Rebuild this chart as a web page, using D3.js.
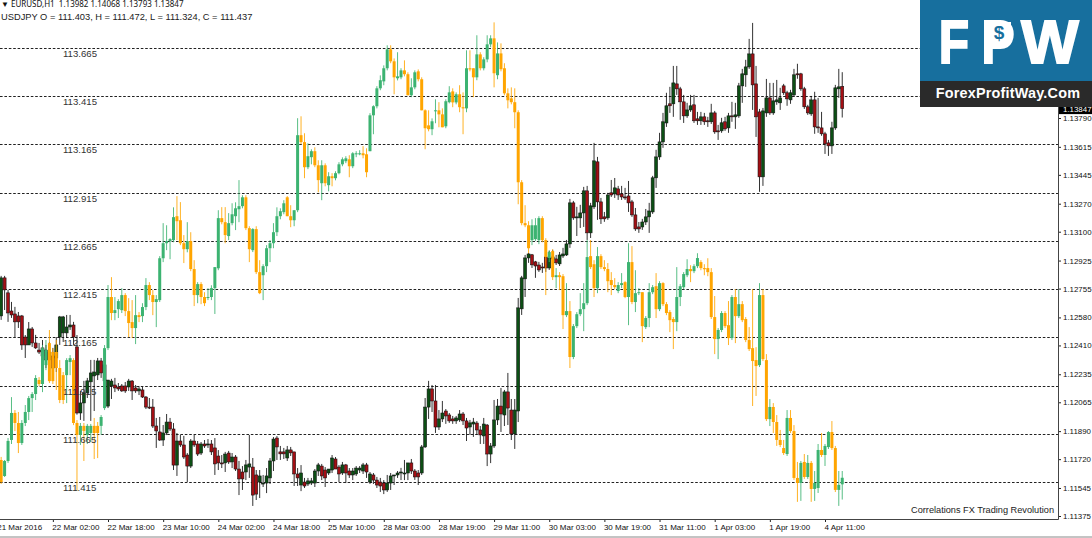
<!DOCTYPE html>
<html><head><meta charset="utf-8">
<script src="https://cdn.jsdelivr.net/npm/d3@7"></script>
<style>html,body{margin:0;background:#fff;overflow:hidden}svg{display:block}</style>
</head><body><svg id="c" width="1092" height="538"></svg>
<script>
const timeLabels=["21 Mar 2016","22 Mar 02:00","22 Mar 18:00","23 Mar 10:00","24 Mar 02:00","24 Mar 18:00","25 Mar 10:00","28 Mar 03:00","28 Mar 19:00","29 Mar 11:00","30 Mar 03:00","30 Mar 19:00","31 Mar 11:00","1 Apr 03:00","1 Apr 19:00","4 Apr 11:00"];
const eurTicks=[1.13790,1.13615,1.13445,1.13270,1.13100,1.12925,1.12755,1.12580,1.12410,1.12235,1.12065,1.11890,1.11720,1.11545,1.11375];
const usdLevels=[113.665,113.415,113.165,112.915,112.665,112.415,112.165,111.915,111.665,111.415];
// open, high, low, close
const usdjpyBars=[
[111.529,111.545,111.405,111.415],[111.446,111.529,111.441,111.524],[111.524,111.643,111.514,111.628],[111.633,111.855,111.612,111.773],[111.773,111.788,111.679,111.721],
[111.721,111.778,111.565,111.617],[111.617,111.736,111.607,111.721],[111.721,111.814,111.705,111.778],[111.778,111.861,111.736,111.850],[111.850,111.881,111.778,111.871],
[111.871,111.969,111.840,111.954],[111.944,111.959,111.912,111.923],[111.923,112.125,111.881,112.109],[112.021,112.151,111.995,112.099],[112.135,112.203,111.928,111.938],
[112.089,112.109,111.923,111.938],[112.089,112.151,111.892,112.006],[112.006,112.047,111.824,111.840],[111.969,111.985,111.819,111.840],[111.969,112.057,111.824,112.047],
[112.037,112.073,111.969,112.057],[112.047,112.057,111.710,111.721],[111.721,111.736,111.369,111.659],[111.659,111.721,111.607,111.706],[111.706,111.721,111.524,111.680],
[111.659,111.716,111.612,111.706],[111.669,111.716,111.622,111.706],[111.706,111.747,111.534,111.669],[111.706,111.726,111.539,111.669],[111.706,111.762,111.659,111.752],
[111.798,112.125,111.788,112.109],[112.109,112.436,112.099,112.374],[112.374,112.477,112.254,112.291],[112.291,112.374,112.254,112.306],[112.311,112.363,112.265,112.353],
[112.306,112.420,112.291,112.384],[112.384,112.394,112.275,112.301],[112.301,112.368,112.166,112.239],[112.244,112.358,112.161,112.213],[112.213,112.384,112.130,112.280],
[112.280,112.296,112.244,112.270],[112.275,112.342,112.244,112.322],[112.322,112.472,112.306,112.436],[112.436,112.451,112.358,112.384],[112.384,112.410,112.280,112.348],
[112.348,112.384,112.218,112.363],[112.358,112.586,112.348,112.575],[112.575,112.757,112.555,112.653],[112.653,112.746,112.617,112.664],[112.664,112.679,112.570,112.674],
[112.669,112.839,112.658,112.788],[112.793,112.897,112.669,112.767],[112.772,112.866,112.643,112.653],[112.653,112.695,112.550,112.622],[112.622,112.762,112.606,112.664],
[112.664,112.710,112.508,112.519],[112.519,112.565,112.327,112.384],[112.384,112.451,112.342,112.441],[112.441,112.451,112.337,112.374],[112.374,112.399,112.327,112.342],
[112.374,112.420,112.358,112.374],[112.374,112.435,112.358,112.420],[112.420,112.529,112.286,112.529],[112.523,112.824,112.513,112.783],[112.783,112.840,112.751,112.762],
[112.762,112.840,112.653,112.695],[112.690,112.809,112.669,112.757],[112.757,112.860,112.746,112.803],[112.793,112.865,112.721,112.834],[112.829,112.980,112.762,112.845],
[112.845,112.902,112.834,112.891],[112.891,112.902,112.721,112.731],[112.731,112.741,112.555,112.622],[112.617,112.731,112.607,112.726],[112.726,112.741,112.493,112.503],
[112.503,112.565,112.389,112.394],[112.487,112.544,112.358,112.534],[112.534,112.643,112.503,112.627],[112.627,112.669,112.555,112.653],[112.653,112.757,112.627,112.710],
[112.710,112.839,112.690,112.793],[112.793,112.834,112.777,112.819],[112.814,112.876,112.803,112.860],[112.891,112.897,112.803,112.793],[112.793,112.850,112.736,112.772],
[112.772,112.824,112.741,112.824],[112.824,113.301,112.814,113.213],[113.213,113.311,113.166,113.177],[113.177,113.223,112.990,113.047],[113.047,113.171,113.037,113.104],
[113.099,113.140,113.062,113.130],[113.130,113.150,113.047,113.057],[113.057,113.083,112.917,112.980],[112.964,113.083,112.876,113.057],[113.057,113.067,112.948,112.964],
[112.954,113.021,112.922,113.000],[113.000,113.016,112.948,112.990],[112.990,113.026,112.979,113.016],[113.016,113.073,113.010,113.062],[113.062,113.098,113.052,113.088],
[113.078,113.104,113.068,113.093],[113.088,113.109,112.995,113.052],[113.052,113.125,113.042,113.119],[113.114,113.130,113.099,113.119],[113.114,113.135,113.109,113.119],
[113.119,113.156,113.093,113.109],[113.114,113.145,112.995,113.021],[113.130,113.327,113.130,113.316],[113.316,113.368,113.218,113.363],[113.363,113.467,113.352,113.456],
[113.456,113.523,113.446,113.498],[113.492,113.575,113.472,113.560],[113.560,113.679,113.549,113.658],[113.658,113.679,113.586,113.596],[113.596,113.611,113.425,113.513],
[113.508,113.643,113.497,113.518],[113.513,113.560,113.503,113.549],[113.549,113.601,113.518,113.529],[113.529,113.539,113.420,113.420],[113.420,113.508,113.410,113.461],
[113.461,113.549,113.451,113.539],[113.544,113.554,113.492,113.503],[113.503,113.513,113.342,113.342],[113.342,113.347,113.140,113.249],[113.264,113.342,113.233,113.244],
[113.244,113.300,113.213,113.285],[113.342,113.399,113.275,113.342],[113.342,113.384,113.254,113.321],[113.321,113.352,113.254,113.254],[113.259,113.399,113.249,113.389],
[113.384,113.467,113.378,113.435],[113.440,113.456,113.358,113.383],[113.383,113.435,113.373,113.425],[113.425,113.472,113.332,113.358],[113.358,113.435,113.218,113.352],
[113.352,113.653,113.332,113.560],[113.560,113.653,113.544,113.554],[113.560,113.560,113.410,113.513],[113.513,113.731,113.498,113.632],[113.632,113.643,113.549,113.560],
[113.560,113.617,113.549,113.606],[113.606,113.731,113.591,113.684],[113.684,113.731,113.669,113.715],[113.715,113.798,113.461,113.534],[113.524,113.694,113.503,113.637],
[113.637,113.689,113.544,113.555],[113.560,113.586,113.420,113.430],[113.430,113.456,113.352,113.394],[113.404,113.461,113.373,113.384],[113.384,113.456,113.249,113.332],
[113.332,113.342,112.855,112.969],[112.969,112.980,112.746,112.757],[112.757,112.850,112.736,112.746],[112.746,112.767,112.601,112.627],[112.669,112.777,112.643,112.746],
[112.674,112.783,112.664,112.746],[112.669,112.793,112.648,112.783],[112.783,112.793,112.658,112.669],[112.669,112.679,112.384,112.581],[112.576,112.617,112.555,112.607],
[112.612,112.622,112.462,112.477],[112.477,112.524,112.420,112.487],[112.487,112.503,112.410,112.477],[112.482,112.493,112.208,112.280],[112.280,112.446,112.270,112.301],
[112.301,112.353,112.006,112.063],[112.063,112.234,112.052,112.223],[112.223,112.296,112.213,112.285],[112.285,112.394,112.275,112.311],[112.311,112.446,112.197,112.342],
[112.342,112.669,112.332,112.581],[112.586,112.669,112.519,112.529],[112.544,112.565,112.374,112.420],[112.420,112.633,112.394,112.586],[112.586,112.596,112.519,112.529],
[112.529,112.565,112.508,112.519],[112.519,112.550,112.399,112.456],[112.462,112.503,112.384,112.436],[112.436,112.472,112.415,112.425],[112.405,112.451,112.394,112.436],
[112.436,112.498,112.420,112.446],[112.451,112.456,112.368,112.374],[112.374,112.653,112.228,112.555],[112.555,112.638,112.337,112.348],[112.348,112.513,112.296,112.394],
[112.394,112.420,112.384,112.399],[112.399,112.399,112.140,112.223],[112.218,112.275,112.208,112.265],[112.265,112.446,112.218,112.399],[112.399,112.436,112.389,112.425],
[112.430,112.498,112.265,112.311],[112.311,112.456,112.301,112.446],[112.446,112.451,112.327,112.337],[112.337,112.348,112.280,112.291],[112.296,112.306,112.192,112.254],
[112.260,112.270,112.104,112.244],[112.244,112.529,112.197,112.374],[112.374,112.441,112.327,112.430],[112.425,112.503,112.415,112.493],[112.487,112.570,112.477,112.519],
[112.519,112.539,112.451,112.508],[112.508,112.544,112.498,112.534],[112.534,112.601,112.524,112.576],[112.555,112.565,112.513,112.524],[112.524,112.544,112.487,112.518],
[112.524,112.575,112.482,112.503],[112.503,112.524,112.260,112.270],[112.270,112.379,112.078,112.156],[112.156,112.213,112.052,112.203],[112.203,112.301,112.192,112.291],
[112.291,112.301,112.213,112.223],[112.228,112.353,112.125,112.161],[112.161,112.384,112.151,112.374],[112.374,112.415,112.135,112.275],[112.275,112.415,112.265,112.337],
[112.337,112.353,112.244,112.254],[112.260,112.270,112.140,112.151],[112.151,112.218,112.094,112.104],[112.109,112.415,111.809,112.042],[112.047,112.114,111.861,112.016],
[112.021,112.446,112.011,112.384],[112.384,112.415,112.042,112.052],[112.047,112.078,111.731,111.741],[111.741,111.845,111.705,111.804],[111.804,111.824,111.669,111.726],
[111.726,111.762,111.602,111.633],[111.633,111.685,111.596,111.607],[111.591,111.633,111.555,111.565],[111.560,111.788,111.550,111.747],[111.747,111.788,111.669,111.679],
[111.679,111.710,111.426,111.436],[111.436,111.519,111.312,111.410],[111.410,111.524,111.317,111.514],[111.519,111.560,111.431,111.441],[111.441,111.555,111.431,111.514],
[111.514,111.524,111.312,111.379],[111.379,111.472,111.317,111.410],[111.384,111.612,111.358,111.581],[111.581,111.669,111.545,111.555],[111.555,111.612,111.498,111.602],
[111.596,111.679,111.586,111.674],[111.674,111.731,111.581,111.591],[111.591,111.602,111.363,111.374],[111.374,111.472,111.291,111.400],[111.403,111.472,111.324,111.437]];
const eurusdBars=[
[1.12589,1.12832,1.12565,1.12820],[1.12820,1.12832,1.12625,1.12747],[1.12729,1.12747,1.12553,1.12607],[1.12619,1.12674,1.12577,1.12595],[1.12601,1.12644,1.12461,1.12553],
[1.12589,1.12613,1.12516,1.12553],[1.12589,1.12595,1.12383,1.12413],[1.12461,1.12473,1.12334,1.12413],[1.12413,1.12552,1.12413,1.12510],[1.12510,1.12522,1.12401,1.12425],
[1.12425,1.12474,1.12389,1.12395],[1.12382,1.12425,1.12358,1.12370],[1.12395,1.12443,1.12292,1.12346],[1.12382,1.12413,1.12273,1.12322],[1.12322,1.12431,1.12249,1.12370],
[1.12346,1.12395,1.12225,1.12273],[1.12334,1.12461,1.12249,1.12413],[1.12461,1.12589,1.12413,1.12583],[1.12486,1.12589,1.12431,1.12583],[1.12486,1.12595,1.12456,1.12522],
[1.12522,1.12595,1.12504,1.12534],[1.12534,1.12553,1.12413,1.12461],[1.12401,1.12473,1.11990,1.12000],[1.12000,1.12134,1.11958,1.12061],[1.12061,1.12195,1.11952,1.12122],
[1.12122,1.12213,1.12091,1.12195],[1.12189,1.12322,1.11952,1.12243],[1.12225,1.12322,1.12012,1.12249],[1.12231,1.12334,1.12200,1.12316],[1.12316,1.12334,1.12213,1.12243],
[1.12195,1.12322,1.12170,1.12292],[1.12042,1.12200,1.12030,1.12200],[1.12164,1.12207,1.12085,1.12194],[1.12170,1.12213,1.12127,1.12152],[1.12158,1.12182,1.12134,1.12146],
[1.12164,1.12176,1.12128,1.12134],[1.12164,1.12188,1.12122,1.12134],[1.12158,1.12207,1.12134,1.12194],[1.12194,1.12200,1.12079,1.12134],[1.12152,1.12170,1.12122,1.12134],
[1.12134,1.12164,1.12109,1.12146],[1.12140,1.12158,1.12091,1.12097],[1.12097,1.12103,1.12024,1.12036],[1.12036,1.12091,1.12024,1.12030],[1.12036,1.12085,1.11909,1.11921],
[1.11921,1.11970,1.11788,1.11891],[1.11885,1.11976,1.11830,1.11836],[1.11836,1.11927,1.11800,1.11879],[1.11879,1.11994,1.11866,1.11945],[1.11945,1.11970,1.11891,1.11903],
[1.11903,1.11939,1.11654,1.11684],[1.11684,1.11879,1.11618,1.11830],[1.11830,1.11867,1.11794,1.11806],[1.11806,1.11861,1.11721,1.11733],[1.11745,1.11757,1.11581,1.11678],
[1.11678,1.11842,1.11666,1.11830],[1.11830,1.11867,1.11794,1.11806],[1.11812,1.11830,1.11739,1.11751],[1.11757,1.11824,1.11745,1.11812],[1.11812,1.11836,1.11788,1.11800],
[1.11806,1.11842,1.11788,1.11812],[1.11812,1.11836,1.11745,1.11764],[1.11788,1.11848,1.11624,1.11691],[1.11739,1.11775,1.11654,1.11697],[1.11697,1.11745,1.11666,1.11691],
[1.11697,1.11764,1.11642,1.11751],[1.11757,1.11770,1.11691,1.11703],[1.11703,1.11757,1.11666,1.11733],[1.11733,1.11745,1.11648,1.11660],[1.11660,1.11709,1.11502,1.11600],
[1.11642,1.11678,1.11533,1.11600],[1.11642,1.11715,1.11593,1.11685],[1.11672,1.11867,1.11606,1.11691],[1.11672,1.11727,1.11436,1.11502],[1.11624,1.11654,1.11472,1.11508],
[1.11581,1.11654,1.11484,1.11618],[1.11575,1.11624,1.11551,1.11575],[1.11575,1.11666,1.11514,1.11618],[1.11606,1.11727,1.11569,1.11709],[1.11709,1.11854,1.11648,1.11842],
[1.11848,1.11860,1.11715,1.11794],[1.11764,1.11800,1.11715,1.11752],[1.11764,1.11788,1.11721,1.11752],[1.11727,1.11800,1.11709,1.11776],[1.11776,1.11794,1.11739,1.11758],
[1.11764,1.11764,1.11557,1.11630],[1.11630,1.11666,1.11557,1.11606],[1.11563,1.11684,1.11526,1.11636],[1.11581,1.11606,1.11545,1.11557],[1.11569,1.11606,1.11557,1.11588],
[1.11575,1.11606,1.11563,1.11588],[1.11575,1.11660,1.11551,1.11648],[1.11648,1.11697,1.11618,1.11685],[1.11678,1.11691,1.11593,1.11618],[1.11654,1.11672,1.11551,1.11606],
[1.11636,1.11660,1.11624,1.11660],[1.11654,1.11745,1.11636,1.11727],[1.11721,1.11733,1.11660,1.11660],[1.11672,1.11684,1.11581,1.11630],[1.11636,1.11703,1.11624,1.11685],
[1.11685,1.11691,1.11575,1.11636],[1.11648,1.11666,1.11606,1.11624],[1.11624,1.11666,1.11593,1.11648],[1.11630,1.11678,1.11618,1.11666],[1.11654,1.11678,1.11636,1.11666],
[1.11648,1.11697,1.11630,1.11685],[1.11685,1.11697,1.11606,1.11642],[1.11581,1.11642,1.11569,1.11630],[1.11624,1.11636,1.11569,1.11593],[1.11593,1.11612,1.11545,1.11563],
[1.11581,1.11606,1.11521,1.11557],[1.11575,1.11593,1.11508,1.11533],[1.11533,1.11624,1.11521,1.11575],[1.11575,1.11636,1.11533,1.11618],[1.11618,1.11624,1.11563,1.11624],
[1.11624,1.11648,1.11606,1.11636],[1.11636,1.11667,1.11593,1.11642],[1.11630,1.11715,1.11593,1.11636],[1.11636,1.11697,1.11593,1.11697],[1.11697,1.11721,1.11630,1.11648],
[1.11648,1.11660,1.11594,1.11612],[1.11636,1.11654,1.11563,1.11612],[1.11636,1.11806,1.11624,1.11794],[1.11794,1.12091,1.11788,1.12036],[1.12036,1.12195,1.11964,1.12146],
[1.12146,1.12170,1.12006,1.12073],[1.12073,1.12170,1.11879,1.11915],[1.11915,1.12018,1.11897,1.11964],[1.11964,1.12073,1.11945,1.12000],[1.12012,1.12024,1.11934,1.11982],
[1.11988,1.12000,1.11940,1.11952],[1.11964,1.11982,1.11934,1.11952],[1.11952,1.11982,1.11934,1.11970],[1.11958,1.12018,1.11946,1.11994],[1.11994,1.12006,1.11927,1.11952],
[1.11952,1.11970,1.11830,1.11909],[1.11915,1.11958,1.11867,1.11940],[1.11933,1.11970,1.11855,1.11945],[1.11939,1.11951,1.11867,1.11897],[1.11897,1.11921,1.11812,1.11867],
[1.11861,1.11970,1.11812,1.11933],[1.11927,1.11933,1.11678,1.11751],[1.11751,1.11818,1.11696,1.11800],[1.11800,1.12079,1.11788,1.11958],[1.11958,1.12085,1.11927,1.12042],
[1.12042,1.12152,1.11885,1.11994],[1.11988,1.12140,1.11921,1.12128],[1.12128,1.12243,1.11927,1.12030],[1.12018,1.12085,1.11836,1.11873],[1.11873,1.12085,1.11782,1.12018],
[1.12012,1.12698,1.11945,1.12638],[1.12632,1.12832,1.12595,1.12820],[1.12814,1.12959,1.12704,1.12941],[1.12941,1.12971,1.12911,1.12965],[1.12960,1.12965,1.12880,1.12899],
[1.12917,1.12923,1.12820,1.12892],[1.12898,1.12917,1.12856,1.12868],[1.12886,1.12911,1.12850,1.12880],[1.12947,1.12959,1.12856,1.12880],[1.12880,1.12983,1.12868,1.12941],
[1.12935,1.12990,1.12868,1.12947],[1.12935,1.12959,1.12898,1.12911],[1.12905,1.12977,1.12892,1.12959],[1.12953,1.13002,1.12941,1.12965],[1.12959,1.13050,1.12953,1.13026],
[1.13026,1.13299,1.13002,1.13275],[1.13275,1.13287,1.13172,1.13184],[1.13184,1.13251,1.13074,1.13190],[1.13184,1.13263,1.13123,1.13214],[1.13214,1.13372,1.13129,1.13348],
[1.13348,1.13378,1.13050,1.13093],[1.13093,1.13275,1.13062,1.13257],[1.13251,1.13639,1.13238,1.13530],[1.13524,1.13554,1.13172,1.13281],[1.13281,1.13305,1.13147,1.13178],
[1.13190,1.13220,1.13160,1.13178],[1.13184,1.13336,1.13172,1.13323],[1.13336,1.13414,1.13311,1.13323],[1.13329,1.13426,1.13305,1.13366],[1.13360,1.13378,1.13293,1.13323],
[1.13329,1.13378,1.13293,1.13311],[1.13311,1.13366,1.13293,1.13305],[1.13317,1.13408,1.13220,1.13275],[1.13281,1.13293,1.13190,1.13202],[1.13202,1.13244,1.13105,1.13117],
[1.13129,1.13159,1.13093,1.13117],[1.13129,1.13178,1.13111,1.13159],[1.13159,1.13238,1.13141,1.13190],[1.13190,1.13275,1.13093,1.13226],[1.13220,1.13439,1.13208,1.13427],
[1.13427,1.13597,1.13366,1.13554],[1.13554,1.13700,1.13536,1.13645],[1.13645,1.13821,1.13609,1.13767],[1.13760,1.13943,1.13736,1.13864],[1.13876,1.13979,1.13821,1.13864],
[1.13876,1.14106,1.13797,1.14003],[1.13997,1.14106,1.13930,1.13967],[1.13967,1.13979,1.13779,1.13888],[1.13888,1.13930,1.13760,1.13803],[1.13803,1.13882,1.13791,1.13839],
[1.13839,1.13930,1.13827,1.13864],[1.13870,1.13930,1.13760,1.13773],[1.13785,1.13827,1.13748,1.13773],[1.13773,1.13827,1.13748,1.13797],[1.13797,1.13821,1.13748,1.13767],
[1.13773,1.13797,1.13736,1.13767],[1.13767,1.13876,1.13754,1.13821],[1.13821,1.13833,1.13694,1.13706],[1.13712,1.13748,1.13657,1.13706],[1.13712,1.13791,1.13700,1.13761],
[1.13767,1.13797,1.13712,1.13724],[1.13730,1.13821,1.13700,1.13803],[1.13803,1.13888,1.13767,1.13797],[1.13797,1.13882,1.13724,1.13809],[1.13803,1.14003,1.13791,1.13985],
[1.13985,1.14088,1.13882,1.14058],[1.14052,1.14143,1.13979,1.14100],[1.14100,1.14270,1.14088,1.14179],[1.14179,1.14367,1.13839,1.13991],[1.13997,1.14106,1.13675,1.13797],
[1.13827,1.13845,1.13342,1.13433],[1.13433,1.13851,1.13378,1.13833],[1.13821,1.14027,1.13797,1.13912],[1.13912,1.14003,1.13809,1.13821],[1.13821,1.14003,1.13809,1.13894],
[1.13888,1.14021,1.13870,1.13900],[1.13882,1.13973,1.13839,1.13912],[1.13985,1.13997,1.13930,1.13943],[1.13943,1.13955,1.13864,1.13906],[1.13900,1.13961,1.13876,1.13943],
[1.13930,1.14088,1.13918,1.14052],[1.14058,1.14119,1.14028,1.14052],[1.14058,1.14064,1.13955,1.13967],[1.13967,1.13979,1.13845,1.13858],[1.13858,1.13870,1.13809,1.13821],
[1.13815,1.13924,1.13803,1.13900],[1.13900,1.13949,1.13694,1.13736],[1.13736,1.13912,1.13700,1.13730],[1.13730,1.13827,1.13682,1.13694],[1.13694,1.13706,1.13572,1.13633],
[1.13639,1.13657,1.13560,1.13621],[1.13621,1.13767,1.13572,1.13730],[1.13730,1.13991,1.13718,1.13973],[1.13967,1.14088,1.13912,1.13979],[1.13982,1.14068,1.13793,1.13847]];

const W=1092,H=538,plotR=1058,plotB=519;
const svg=d3.select("#c");
const x=d3.scaleLinear().domain([0,240]).range([-2.3,825.0]);
const yE=d3.scaleLinear().domain([1.11375,1.13790]).range([516,118]);
const yU=d3.scaleLinear().domain([111.415,113.665]).range([482,48]);
const bodyW=3;

const levels=svg.append("g");
levels.selectAll("line").data(usdLevels).join("line")
  .attr("x1",0).attr("x2",plotR).attr("y1",d=>Math.round(yU(d))+.5).attr("y2",d=>Math.round(yU(d))+.5)
  .attr("stroke","#222").attr("stroke-width",1).attr("stroke-dasharray","2.6,1.8");

function drawCandles(rows,y,upFill,downFill,edge,wickUp,wickDown){
  const idx=rows.map((d,i)=>({i:i+1,o:d[0],h:d[1],l:d[2],c:d[3]}));
  const g=svg.append("g");
  g.selectAll("line").data(idx).join("line")
    .attr("x1",d=>x(d.i)).attr("x2",d=>x(d.i))
    .attr("y1",d=>y(Math.max(d.h,d.o,d.c))).attr("y2",d=>y(Math.min(d.l,d.o,d.c)))
    .attr("stroke",d=>d.c>=d.o?wickUp:wickDown).attr("stroke-width",.86);
  g.selectAll("rect").data(idx).join("rect")
    .attr("x",d=>x(d.i)-bodyW/2).attr("width",bodyW)
    .attr("y",d=>y(Math.max(d.o,d.c)))
    .attr("height",d=>Math.max(1,Math.abs(y(d.o)-y(d.c))))
    .attr("fill",d=>d.c>=d.o?upFill:downFill)
    .attr("stroke",edge||"none").attr("stroke-width",edge?.55:0);
}
drawCandles(eurusdBars,yE,"#0c4f14","#a30f14","#111","#111","#111");
drawCandles(usdjpyBars,yU,"#3cb371","#ffa500",null,"#3cb371","#ffa500");

svg.append("g").selectAll("text").data(usdLevels).join("text")
  .attr("x",63).attr("y",d=>yU(d)+9).text(d=>d.toFixed(3))
  .attr("font-family","Liberation Sans").attr("font-size",9.6).attr("fill","#333");

const axB=d3.axisBottom(x).tickValues(d3.range(0,241,16)).tickFormat(d=>timeLabels[d/16]).tickSize(3).tickPadding(2);
const gB=svg.append("g").attr("transform",`translate(0,${plotB})`).call(axB);
gB.select(".domain").remove();
gB.selectAll("text").attr("text-anchor","start").attr("dx",-1).attr("font-family","Liberation Sans").attr("font-size",8).attr("fill","#111");
gB.selectAll("line").attr("stroke","#222");
const axR=d3.axisRight(yE).tickValues(eurTicks).tickFormat(d3.format(".5f")).tickSize(3).tickPadding(2);
const gR=svg.append("g").attr("transform",`translate(${plotR},0)`).call(axR);
gR.select(".domain").remove();
gR.selectAll("text").attr("font-family","Liberation Sans").attr("font-size",7.9).attr("fill","#111");
gR.selectAll("line").attr("stroke","#222");
svg.append("line").attr("x1",0).attr("x2",plotR+.5).attr("y1",plotB+.5).attr("y2",plotB+.5).attr("stroke","#444");
svg.append("line").attr("x1",plotR+.5).attr("x2",plotR+.5).attr("y1",0).attr("y2",plotB+.5).attr("stroke","#444");
svg.append("line").attr("x1",0).attr("x2",W).attr("y1",537).attr("y2",537).attr("stroke","#888");

const lastE=eurusdBars[eurusdBars.length-1][3];
svg.append("rect").attr("x",1059).attr("y",yE(lastE)-5.5).attr("width",33).attr("height",11).attr("fill","#000");
svg.append("text").attr("x",1063).attr("y",yE(lastE)+3).text(lastE.toFixed(5)).attr("fill","#fff")
  .attr("font-family","Liberation Sans").attr("font-size",7.9);

const lastU=usdjpyBars[usdjpyBars.length-1], lastEu=eurusdBars[eurusdBars.length-1];
svg.append("text").attr("x",1).attr("y",7).text("\u25BC EURUSD,H1  "+lastEu.map(v=>v.toFixed(5)).join(" "))
  .attr("xml:space","preserve").attr("font-family","Noto Sans").attr("font-size",8).attr("fill","#111");
svg.append("text").attr("x",1).attr("y",20).text(`USDJPY O = ${lastU[0].toFixed(3)}, H = ${lastU[1].toFixed(3)}, L = ${lastU[2].toFixed(3)}, C = ${lastU[3].toFixed(3)}`)
  .attr("font-family","Liberation Sans").attr("font-size",9.3).attr("fill","#222");
svg.append("text").attr("x",1054).attr("y",513).attr("text-anchor","end").text("Correlations FX Trading Revolution")
  .attr("font-family","Liberation Sans").attr("font-size",9.2).attr("fill","#222");

const logo=svg.append("g");
logo.append("rect").attr("x",920).attr("y",0).attr("width",172).attr("height",81).attr("fill","#176f9e");
logo.append("rect").attr("x",920).attr("y",81).attr("width",172).attr("height",26).attr("fill","#2a2a2a");
[["F",954,.8],["P",998,.8],["W",1050,.98]].forEach(([t,cx,sx])=>logo.append("text")
  .attr("transform",`translate(${cx},63) scale(${sx},1)`).attr("text-anchor","middle").text(t)
  .attr("font-family","Liberation Sans").attr("font-weight","bold").attr("font-size",62).attr("fill","#fff").attr("stroke","#fff").attr("stroke-width",2));
logo.append("rect").attr("x",988).attr("y",22).attr("width",23).attr("height",22).attr("fill","#fff");
logo.append("text").attr("x",999).attr("y",39).attr("text-anchor","middle").text("$")
  .attr("font-family","Liberation Sans").attr("font-weight","bold").attr("font-size",19).attr("fill","#176f9e");
logo.append("text").attr("x",1008).attr("y",98).attr("text-anchor","middle").text("ForexProfitWay.Com")
  .attr("font-family","Liberation Sans").attr("font-weight","bold").attr("font-size",14.4).attr("letter-spacing",.2).attr("fill","#fff");
</script>
</body></html>
